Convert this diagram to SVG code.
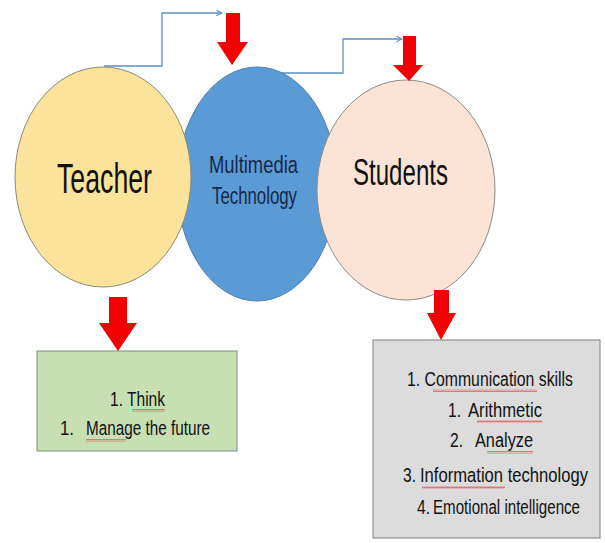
<svg xmlns="http://www.w3.org/2000/svg" width="605" height="543" viewBox="0 0 605 543">
  <style>
    .lbl { font-family: "Liberation Sans", Arial, sans-serif; fill: #111; }
    .conn { fill: none; stroke: #5b8fc4; stroke-width: 1.3; }
    .red { fill: #f00000; }
  </style>
  <defs>
    <marker id="openhead" viewBox="0 0 10 10" refX="9" refY="5" markerWidth="7" markerHeight="7" markerUnits="userSpaceOnUse" orient="auto">
      <path d="M1,1 L9,5 L1,9" fill="none" stroke="#5b8fc4" stroke-width="1.5"/>
    </marker>
    <pattern id="wave" width="4" height="3" patternUnits="userSpaceOnUse">
      <path d="M0,2.5 L1,0.5 L2,2.5 L3,0.5 L4,2.5" fill="none" stroke="#e06060" stroke-width="0.8"/>
    </pattern>
  </defs>

  <rect width="605" height="543" fill="#ffffff"/>

  <!-- thin elbow links start at the circle tops, beneath the circles -->
  <g id="connectors">
    <polyline class="conn" points="104,66 162,66 162,13 222,13" marker-end="url(#openhead)"/>
    <polyline class="conn" points="257,73 343,73 343,39 402,39" marker-end="url(#openhead)"/>
  </g>

  <!-- middle circle sits beneath the two outer ones -->
  <g id="node-multimedia">
    <ellipse cx="257" cy="184" rx="80" ry="117" fill="#5b9bd5" stroke="#4a7fb0" stroke-width="1"/>
    <text class="lbl" x="209" y="173" font-size="23" textLength="89" lengthAdjust="spacingAndGlyphs" style="fill:#16284a">Multimedia</text>
    <text class="lbl" x="212" y="204" font-size="23" textLength="85" lengthAdjust="spacingAndGlyphs" style="fill:#16284a">Technology</text>
  </g>

  <g id="node-teacher">
    <ellipse cx="103" cy="177" rx="88" ry="110" fill="#fbe39b" stroke="#8a8a7a" stroke-width="1"/>
    <text class="lbl" x="57" y="193" font-size="42" textLength="95" lengthAdjust="spacingAndGlyphs">Teacher</text>
  </g>

  <g id="node-students">
    <ellipse cx="406" cy="190" rx="89" ry="110" fill="#fbe4d6" stroke="#8a8a8a" stroke-width="1"/>
    <text class="lbl" x="353" y="185" font-size="37" textLength="95" lengthAdjust="spacingAndGlyphs">Students</text>
  </g>

  <g id="node-teacher-skills">
    <rect x="37" y="351" width="200" height="100" fill="#c6e0b4" stroke="#7f8c7a" stroke-width="1"/>
    <text class="lbl" x="110" y="406" font-size="20" textLength="55" lengthAdjust="spacingAndGlyphs">1. Think</text>
    <text class="lbl" x="60" y="435" font-size="20" textLength="14" lengthAdjust="spacingAndGlyphs">1.</text>
    <text class="lbl" x="86" y="435" font-size="20" textLength="124" lengthAdjust="spacingAndGlyphs">Manage the future</text>
    <rect x="132" y="409" width="33" height="3" fill="url(#wave)"/>
    <rect x="86" y="439" width="40" height="3" fill="url(#wave)"/>
  </g>

  <g id="node-student-skills">
    <rect x="373" y="340" width="227" height="198" fill="#dcdcdc" stroke="#7f7f7f" stroke-width="1"/>
    <text class="lbl" x="490" y="386" font-size="20" text-anchor="middle" textLength="166" lengthAdjust="spacingAndGlyphs">1. Communication skills</text>
    <text class="lbl" x="448" y="417" font-size="20" textLength="13" lengthAdjust="spacingAndGlyphs">1.</text>
    <text class="lbl" x="468" y="417" font-size="20" textLength="74" lengthAdjust="spacingAndGlyphs">Arithmetic</text>
    <text class="lbl" x="450" y="447" font-size="20" textLength="13" lengthAdjust="spacingAndGlyphs">2.</text>
    <text class="lbl" x="475" y="447" font-size="20" textLength="58" lengthAdjust="spacingAndGlyphs">Analyze</text>
    <text class="lbl" x="403" y="482" font-size="20" textLength="13" lengthAdjust="spacingAndGlyphs">3.</text>
    <text class="lbl" x="588" y="482" font-size="20" text-anchor="end" textLength="168" lengthAdjust="spacingAndGlyphs">Information technology</text>
    <text class="lbl" x="417" y="514" font-size="20" textLength="13" lengthAdjust="spacingAndGlyphs">4.</text>
    <text class="lbl" x="580" y="514" font-size="20" text-anchor="end" textLength="147" lengthAdjust="spacingAndGlyphs">Emotional intelligence</text>
    <rect x="433" y="389" width="104" height="3" fill="url(#wave)"/>
    <rect x="477" y="420" width="65" height="3" fill="url(#wave)"/>
    <rect x="487" y="451" width="46" height="3" fill="url(#wave)"/>
    <rect x="422" y="486" width="83" height="3" fill="url(#wave)"/>
  </g>

  <!-- block arrows -->
  <g id="arrows">
    <polygon class="red" points="226,13 240,13 240,42 248,42 232,65 217,42 226,42"/>
    <polygon class="red" points="403,36 416,36 416,65 423,65 409,81 393,65 403,65"/>
    <polygon class="red" points="109,297 127,297 127,323 137,323 118,351 99,323 109,323"/>
    <polygon class="red" points="434,290 449,290 449,313 456,313 441,340 427,313 434,313"/>
  </g>
</svg>
